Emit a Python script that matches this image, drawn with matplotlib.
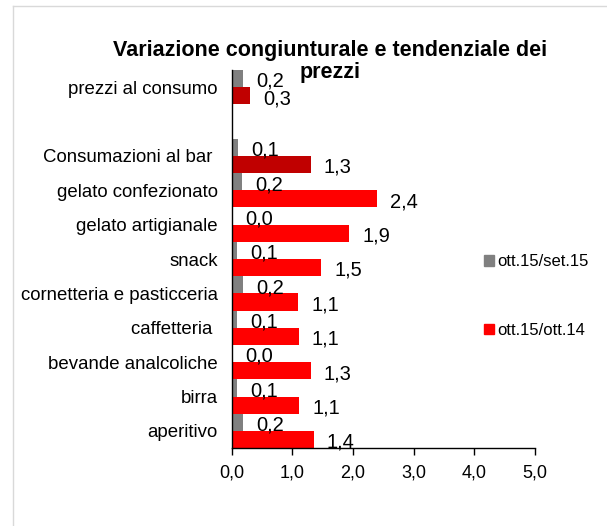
import matplotlib.pyplot as plt
from matplotlib.lines import Line2D
from matplotlib.patches import Patch
import numpy as np

plt.rcParams['font.family'] = ['Liberation Sans', 'DejaVu Sans']

# categories from top to bottom, the empty one is the blank row of the original sheet
categories = ['prezzi al consumo', '', 'Consumazioni al bar ', 'gelato confezionato',
              'gelato artigianale', 'snack', 'cornetteria e pasticceria', 'caffetteria ',
              'bevande analcoliche', 'birra', 'aperitivo']
series_names = ['ott.15/set.15', 'ott.15/ott.14']
congiunturale = [0.19, np.nan, 0.10, 0.16, 0.0, 0.08, 0.18, 0.09, 0.0, 0.09, 0.18]
tendenziale = [0.30, np.nan, 1.30, 2.40, 1.94, 1.47, 1.09, 1.10, 1.30, 1.11, 1.35]
x_ticks = [0, 1, 2, 3, 4, 5]
title_lines = ['Variazione congiunturale e tendenziale dei', 'prezzi']

gray = '#808080'
red = '#FF0000'
dark_red = '#C00000'
# the two aggregates at the top have a darker red bar
red_colors = [dark_red, red, dark_red] + [red] * 8

fig = plt.figure(figsize=(6.07, 5.26), dpi=100)
ax = fig.add_axes([0.382, 0.148, 0.499, 0.719])

# first category must be at the top, so we reverse the positions
y_pos = np.arange(len(categories))[::-1]
h = 0.5

ax.barh(y_pos + h / 2, congiunturale, height=h, color=gray)
ax.barh(y_pos - h / 2, tendenziale, height=h, color=red_colors)

# data labels, written with a comma as decimal separator
for y, v1, v2 in zip(y_pos, congiunturale, tendenziale):
    if np.isnan(v1):
        continue
    ax.annotate(f'{v1:.1f}'.replace('.', ','), (v1, y + h / 2), xytext=(19.5, -6),
                textcoords='offset points', ha='center', va='baseline', fontsize=14.5)
    ax.annotate(f'{v2:.1f}'.replace('.', ','), (v2, y - h / 2), xytext=(19.5, -6),
                textcoords='offset points', ha='center', va='baseline', fontsize=14.5)

ax.set_xlim(0, 5)
ax.set_ylim(-0.5, len(categories) - 0.5)
ax.set_xticks(x_ticks)
ax.set_xticklabels([f'{t:.1f}'.replace('.', ',') for t in x_ticks], fontsize=13)
ax.set_yticks(y_pos)
ax.set_yticklabels(categories, fontsize=13.4)
ax.tick_params(axis='y', length=0, pad=10)
ax.tick_params(axis='x', length=5, width=1, direction='out', pad=7)

for side in ['top', 'right']:
    ax.spines[side].set_visible(False)
for side in ['left', 'bottom']:
    ax.spines[side].set_color('black')
    ax.spines[side].set_linewidth(1)

# the title is wrapped on two lines, drawn one by one
fig.text(0.544, 1 - 56 / 526, title_lines[0], ha='center', va='baseline',
         fontsize=15.5, fontweight='bold')
fig.text(0.544, 1 - 78 / 526, title_lines[1], ha='center', va='baseline',
         fontsize=15.5, fontweight='bold')

# legend handles built by hand, the red series has two shades
handles = [Patch(color=gray), Patch(color=red)]
fig.legend(handles, series_names, loc='center left', bbox_to_anchor=(0.773, 0.437),
           frameon=False, fontsize=12, handlelength=0.6, handleheight=0.6,
           handletextpad=0.2, labelspacing=3.2)

# light gray border of the chart area, only top and left visible
fig.add_artist(Line2D([13 / 607, 1], [1 - 6 / 526, 1 - 6 / 526], color='#D9D9D9', lw=1))
fig.add_artist(Line2D([13 / 607, 13 / 607], [0, 1 - 6 / 526], color='#D9D9D9', lw=1))

fig.savefig('out.png', dpi=100)
